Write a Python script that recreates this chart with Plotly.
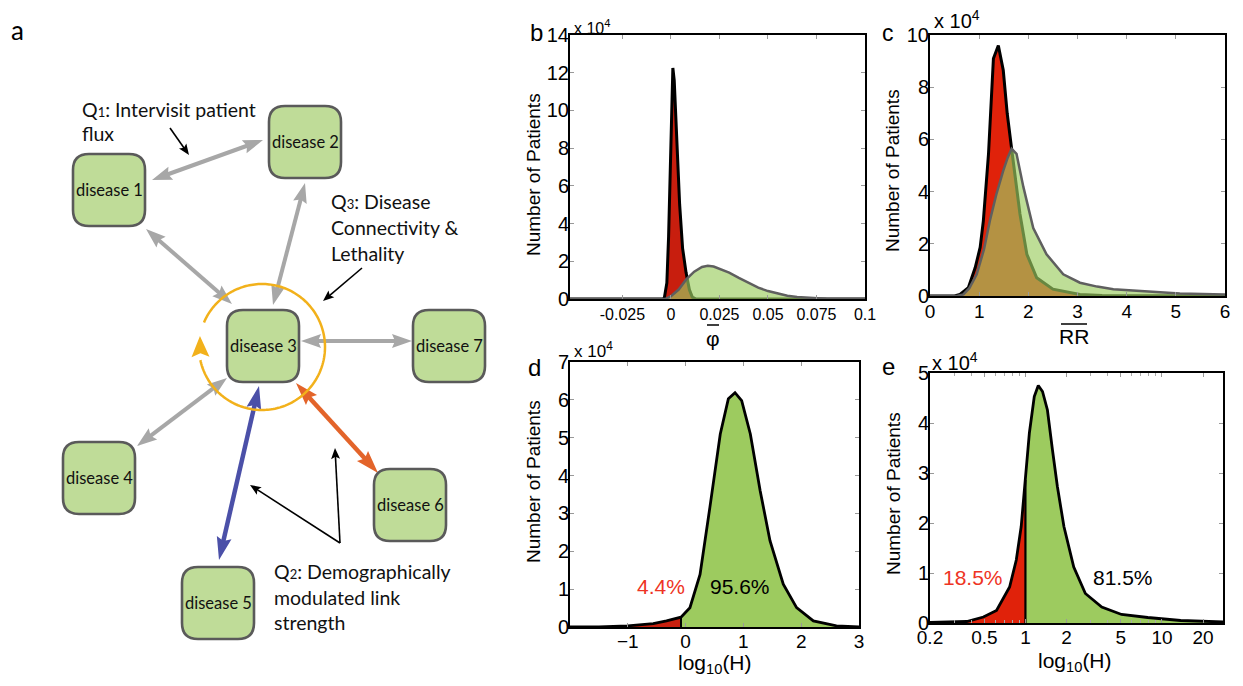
import numpy as np
import plotly.graph_objects as go

W, H = 1243, 686

# ---------------- panel a: network diagram ----------------
node_names = ["disease 1", "disease 2", "disease 3", "disease 4", "disease 5", "disease 6", "disease 7"]
node_cx = [109, 305, 263, 99, 218, 410, 449]
node_cy = [190, 142, 346, 478, 603, 505, 346]

# edges: start point, end point, colour key
edge_start = [(152, 180), (146, 229), (305, 183), (301, 341), (227, 378), (259, 386), (296, 383)]
edge_end = [(263, 140), (232, 304), (273, 305), (412, 341), (137, 446), (219, 560), (378, 473)]
edge_kind = ["gray", "gray", "gray", "gray", "gray", "blue", "orange"]

pointer_start = [(170, 128), (362, 268), (340, 543), (340, 543)]
pointer_end = [(189, 155), (323, 301), (250, 485), (335, 448)]

q_text_lines = [
    ("Q<span style='font-size:13px'>1</span>: Intervisit patient", 80, 109),
    ("flux", 80, 133),
    ("Q<span style='font-size:13px'>3</span>: Disease", 329, 201),
    ("Connectivity &amp;", 329, 227),
    ("Lethality", 329, 253),
    ("Q<span style='font-size:13px'>2</span>: Demographically", 272, 571),
    ("modulated link", 272, 597),
    ("strength", 272, 622),
]

loop_center = (262, 347)
loop_radius = 63

# ---------------- panel b: mean phi ----------------
b_red_x = [-0.052, -0.0045, -0.0034, -0.0021, -0.0012, -0.0003, 0.0005, 0.001, 0.0017, 0.0026,
           0.0034, 0.0045, 0.006, 0.0078, 0.0095, 0.011, 0.013, 0.1]
b_red_y = [0, 0, 0.05, 0.85, 3.3, 6.85, 10.4, 12.25, 11.6, 9.5, 7.2, 5.0, 2.7, 1.4, 0.5, 0.1, 0, 0]
b_green_x = [-0.052, -0.003, 0.0, 0.004, 0.008, 0.012, 0.016, 0.019, 0.022, 0.026, 0.03, 0.035, 0.04,
             0.045, 0.05, 0.055, 0.06, 0.065, 0.07, 0.075, 0.08, 0.09, 0.1]
b_green_y = [0, 0, 0.15, 0.5, 1.05, 1.45, 1.7, 1.76, 1.72, 1.58, 1.4, 1.12, 0.84, 0.6, 0.42, 0.28,
             0.17, 0.1, 0.06, 0.03, 0.015, 0.005, 0]
b_xticks = [-0.025, 0, 0.025, 0.05, 0.075, 0.1]
b_xticktext = ["-0.025", "0", "0.025", "0.05", "0.075", "0.1"]

# ---------------- panel c: mean RR ----------------
c_red_x = [0, 0.5, 0.61, 0.78, 0.92, 1.02, 1.085, 1.19, 1.29, 1.39, 1.49, 1.57, 1.66, 1.75, 1.83,
           1.97, 2.17, 2.5, 3.05, 3.5, 6]
c_red_y = [0, 0, 0.06, 0.32, 1.09, 1.86, 2.88, 5.45, 9.1, 9.6, 8.65, 7.0, 5.64, 4.3, 3.14, 1.6,
           0.7, 0.26, 0.06, 0.02, 0]
c_green_x = [0, 0.55, 0.68, 0.8, 0.95, 1.1, 1.22, 1.35, 1.49, 1.58, 1.66, 1.76, 1.9, 2.1, 2.37,
             2.71, 3.05, 3.4, 3.73, 4.4, 5.08, 6]
c_green_y = [0, 0, 0.06, 0.3, 0.83, 1.8, 2.9, 3.9, 4.8, 5.3, 5.64, 5.45, 4.17, 2.6, 1.6, 0.83,
             0.51, 0.36, 0.26, 0.17, 0.1, 0.06]

# ---------------- panel d: log10(H) for phi ----------------
d_x = [-2, -1.5, -1, -0.75, -0.56, -0.33, -0.08, 0.075, 0.25, 0.42, 0.6, 0.74, 0.855, 0.97, 1.12,
       1.29, 1.46, 1.69, 1.92, 2.21, 2.61, 3]
d_y = [0, 0.005, 0.03, 0.06, 0.09, 0.16, 0.26, 0.51, 1.39, 3.16, 5.1, 6.03, 6.19, 5.98, 5.1, 3.6,
       2.28, 1.13, 0.51, 0.16, 0.03, 0]
d_split = 6  # index of the boundary point
d_labels = ["4.4%", "95.6%"]
d_label_x = [-0.42, 0.94]
d_label_y = [1.08, 1.08]

# ---------------- panel e: H for RR ----------------
e_x = [0.2, 0.372, 0.492, 0.614, 0.766, 0.857, 0.931, 1.0, 1.069, 1.161, 1.242, 1.334, 1.449,
       1.578, 1.714, 1.914, 2.259, 2.748, 3.622, 5.058, 7.87, 13.71, 28.0]
e_y = [0.01, 0.03, 0.12, 0.25, 0.72, 1.26, 1.93, 2.86, 3.8, 4.53, 4.75, 4.63, 4.26, 3.46, 2.73,
       1.93, 1.12, 0.59, 0.32, 0.17, 0.11, 0.05, 0.02]
e_split = 7
e_labels = ["18.5%", "81.5%"]
e_label_x = [0.416, 5.2]
e_label_y = [0.91, 0.91]
e_xticks = [0.2, 0.5, 1, 2, 5, 10, 20]

# ---------------- styling ----------------
ARIAL = "Liberation Sans, Arial, sans-serif"
CAL = "Lato, Carlito, Calibri, sans-serif"
colors = {"gray": "#a7a7a7", "blue": "#4b50a8", "orange": "#e3642a"}
NODE_FILL = "#bfdc98"
NODE_EDGE = "#5a5a5a"
YELLOW = "#f2b11b"
GREEN_T = "rgba(157,205,97,0.66)"
GREEN = "#9dcb5f"


def P(px, py):
    return px / W, 1 - py / H


def dom_x(l, r):
    return [l / W, r / W]


def dom_y(t, b):
    return [1 - b / H, 1 - t / H]


shapes = []
annotations = []


def rrect(cx, cy, h=36, r=16):
    x0, x1, y0, y1 = cx - h, cx + h, cy - h, cy + h
    return (f"M{x0 + r},{y0} L{x1 - r},{y0} Q{x1},{y0} {x1},{y0 + r} L{x1},{y1 - r} "
            f"Q{x1},{y1} {x1 - r},{y1} L{x0 + r},{y1} Q{x0},{y1} {x0},{y1 - r} "
            f"L{x0},{y0 + r} Q{x0},{y0} {x0 + r},{y0} Z")


def head(tip, frm, L, Wd, color, notch=0.15):
    tx, ty = tip
    fx, fy = frm
    dx, dy = tx - fx, ty - fy
    n = np.hypot(dx, dy)
    ux, uy = dx / n, dy / n
    px, py = -uy, ux
    bx, by = tx - ux * L, ty - uy * L
    nx, ny = tx - ux * L * (1 - notch), ty - uy * L * (1 - notch)
    path = (f"M{tx:.2f},{ty:.2f} L{bx + px * Wd:.2f},{by + py * Wd:.2f} L{nx:.2f},{ny:.2f} "
            f"L{bx - px * Wd:.2f},{by - py * Wd:.2f} Z")
    shapes.append(dict(type="path", path=path, xref="x", yref="y", fillcolor=color,
                       line=dict(width=0), layer="above"))


def arrow(s, e, color, width, L, Wd, both=True, notch=0.15):
    sx, sy = s
    ex, ey = e
    n = np.hypot(ex - sx, ey - sy)
    ux, uy = (ex - sx) / n, (ey - sy) / n
    e2 = (ex - ux * L * 0.7, ey - uy * L * 0.7)
    s2 = (sx + ux * L * 0.7, sy + uy * L * 0.7) if both else (sx, sy)
    shapes.append(dict(type="line", x0=s2[0], y0=s2[1], x1=e2[0], y1=e2[1], xref="x", yref="y",
                       line=dict(color=color, width=width), layer="above"))
    head(e, s, L, Wd, color, notch)
    if both:
        head(s, e, L, Wd, color, notch)


# edges
for s, e, k in zip(edge_start, edge_end, edge_kind):
    if k == "gray":
        arrow(s, e, colors[k], 4, 20, 7)
    else:
        arrow(s, e, colors[k], 4.5, 23, 7.5)

# pointer arrows
for s, e in zip(pointer_start, pointer_end):
    arrow(s, e, "black", 1.6, 11, 4.5, both=False, notch=0.2)

# yellow loop
cx, cy = loop_center
ang = np.radians(np.linspace(157, -168, 200))
pts = [(cx + loop_radius * np.cos(a), cy - loop_radius * np.sin(a)) for a in ang]
shapes.append(dict(type="path", xref="x", yref="y", layer="above",
                   path="M" + " L".join(f"{x:.2f},{y:.2f}" for x, y in pts),
                   line=dict(color=YELLOW, width=2.5)))
a_tip = np.radians(170)
a_frm = np.radians(193)
head((cx + loop_radius * np.cos(a_tip), cy - loop_radius * np.sin(a_tip)),
     (cx + loop_radius * np.cos(a_frm), cy - loop_radius * np.sin(a_frm)), 21, 9, YELLOW, 0.18)

# nodes
for name, x, y in zip(node_names, node_cx, node_cy):
    shapes.append(dict(type="path", path=rrect(x, y), xref="x", yref="y", fillcolor=NODE_FILL,
                       line=dict(color=NODE_EDGE, width=2.6), layer="above"))
    annotations.append(dict(text=name, x=x, y=y, xref="x", yref="y", showarrow=False,
                            xanchor="center", yanchor="middle",
                            font=dict(family=CAL, size=16.5, color="#111")))

for t, x, y in q_text_lines:
    annotations.append(dict(text=t, x=x, y=y, xref="x", yref="y", showarrow=False,
                            xanchor="left", yanchor="middle",
                            font=dict(family=CAL, size=19.5, color="#111")))

# ---------------- traces ----------------
traces = [go.Scatter(x=[0], y=[0], xaxis="x", yaxis="y", mode="markers",
                     marker=dict(opacity=0), hoverinfo="skip", showlegend=False)]

# b
traces.append(go.Scatter(x=b_red_x, y=b_red_y, xaxis="x2", yaxis="y2", mode="lines",
                         fill="tozeroy", fillcolor="#c81e0e", line=dict(color="black", width=3),
                         showlegend=False))
traces.append(go.Scatter(x=b_green_x, y=b_green_y, xaxis="x2", yaxis="y2", mode="lines",
                         fill="tozeroy", fillcolor=GREEN_T, line=dict(color="#5f5f5f", width=2.5),
                         showlegend=False))
# c
traces.append(go.Scatter(x=c_red_x, y=c_red_y, xaxis="x3", yaxis="y3", mode="lines",
                         fill="tozeroy", fillcolor="#e0220a", line=dict(color="black", width=3),
                         showlegend=False))
traces.append(go.Scatter(x=c_green_x, y=c_green_y, xaxis="x3", yaxis="y3", mode="lines",
                         fill="tozeroy", fillcolor=GREEN_T, line=dict(color="#5f5f5f", width=2.5),
                         showlegend=False))
# d
traces.append(go.Scatter(x=d_x[:d_split + 1], y=d_y[:d_split + 1], xaxis="x4", yaxis="y4",
                         mode="lines", fill="tozeroy", fillcolor="#c8200e", line=dict(width=0),
                         showlegend=False))
traces.append(go.Scatter(x=d_x[d_split:], y=d_y[d_split:], xaxis="x4", yaxis="y4",
                         mode="lines", fill="tozeroy", fillcolor=GREEN, line=dict(width=0),
                         showlegend=False))
traces.append(go.Scatter(x=[d_x[d_split], d_x[d_split]], y=[0, d_y[d_split]], xaxis="x4", yaxis="y4",
                         mode="lines", line=dict(color="black", width=2), showlegend=False))
traces.append(go.Scatter(x=d_x, y=d_y, xaxis="x4", yaxis="y4", mode="lines",
                         line=dict(color="black", width=2.8), showlegend=False))
# e
traces.append(go.Scatter(x=e_x[:e_split + 1], y=e_y[:e_split + 1], xaxis="x5", yaxis="y5",
                         mode="lines", fill="tozeroy", fillcolor="#e0220a", line=dict(width=0),
                         showlegend=False))
traces.append(go.Scatter(x=e_x[e_split:], y=e_y[e_split:], xaxis="x5", yaxis="y5",
                         mode="lines", fill="tozeroy", fillcolor=GREEN, line=dict(width=0),
                         showlegend=False))
traces.append(go.Scatter(x=[e_x[e_split], e_x[e_split]], y=[0, e_y[e_split]], xaxis="x5", yaxis="y5",
                         mode="lines", line=dict(color="black", width=2.2), showlegend=False))
traces.append(go.Scatter(x=e_x, y=e_y, xaxis="x5", yaxis="y5", mode="lines",
                         line=dict(color="black", width=2.8), showlegend=False))

fig = go.Figure(traces)


def ax(domain, rng, anchor, tickfont, standoff=0, **kw):
    d = dict(domain=domain, range=rng, anchor=anchor, showline=True, linecolor="black",
             linewidth=2, mirror="allticks", ticks="inside", ticklen=4, tickcolor="#999",
             tickwidth=1, showgrid=False, zeroline=False, automargin=False,
             ticklabelstandoff=standoff,
             tickfont=dict(family=ARIAL, size=tickfont, color="black"))
    d.update(kw)
    return d


layout = dict(
    width=W, height=H, margin=dict(l=0, r=0, t=0, b=0), paper_bgcolor="white",
    plot_bgcolor="white", showlegend=False,
    xaxis=dict(domain=[0, 500 / W], range=[0, 500], visible=False, anchor="y"),
    yaxis=dict(domain=[0, 1], range=[686, 0], visible=False, anchor="x"),
    xaxis2=ax(dom_x(570, 865), [-0.052, 0.1], "y2", 16, 0, tickvals=b_xticks, ticktext=b_xticktext),
    yaxis2=ax(dom_y(35, 299), [0, 14], "x2", 20, -5, tickvals=list(range(0, 15, 2))),
    xaxis3=ax(dom_x(930, 1225), [0, 6], "y3", 19, -3, tickvals=list(range(0, 7))),
    yaxis3=ax(dom_y(35, 296), [0, 10], "x3", 20, -5, tickvals=list(range(0, 11, 2))),
    xaxis4=ax(dom_x(570, 859), [-2, 3], "y4", 19, -4, tickvals=[-1, 0, 1, 2, 3]),
    yaxis4=ax(dom_y(362, 627), [0, 7], "x4", 20, -5, tickvals=list(range(0, 8))),
    xaxis5=ax(dom_x(930, 1223), [np.log10(0.2), np.log10(28.0)], "y5", 19, -4, type="log",
              tickvals=e_xticks, ticktext=[str(v) for v in e_xticks],
              minor=dict(tickvals=[0.3, 0.4, 0.6, 0.7, 0.8, 0.9, 3, 4, 6, 7, 8, 9],
                         ticks="inside", ticklen=3, tickcolor="#aaa")),
    yaxis5=ax(dom_y(373, 623), [0, 5], "x5", 20, -5, tickvals=list(range(0, 6))),
)

# panel letters
for t, px, py, fam, sz in [("a", 17, 30, CAL, 26), ("b", 536, 32, ARIAL, 24), ("c", 888, 33, ARIAL, 23),
                           ("d", 534, 367, ARIAL, 24), ("e", 888, 366, ARIAL, 24)]:
    x, y = P(px, py)
    annotations.append(dict(text=t, x=x, y=y, xref="paper", yref="paper", showarrow=False,
                            xanchor="center", yanchor="middle",
                            font=dict(family=fam, size=sz, color="black")))

# x 10^4 multipliers
for px, py, sz in [(572, 27, 16), (932, 20, 20), (572, 350, 17), (930, 361, 20)]:
    x, y = P(px, py)
    annotations.append(dict(text="x 10<sup>4</sup>", x=x, y=y, xref="paper", yref="paper",
                            xanchor="left", yanchor="middle", showarrow=False,
                            font=dict(family=ARIAL, size=sz, color="black")))

# y titles
for px, py in [(534, 175), (893, 171), (534, 482), (893, 494)]:
    x, y = P(px, py)
    annotations.append(dict(text="Number of Patients", x=x, y=y, xref="paper", yref="paper",
                            textangle=-90, showarrow=False, xanchor="center", yanchor="middle",
                            font=dict(family=ARIAL, size=19, color="black")))

# x titles
for t, px, py in [("φ", 713, 338), ("RR", 1074, 336),
                  ("log<sub>10</sub>(H)", 715, 664), ("log<sub>10</sub>(H)", 1075, 662)]:
    x, y = P(px, py)
    annotations.append(dict(text=t, x=x, y=y, xref="paper", yref="paper", showarrow=False,
                            xanchor="center", yanchor="middle",
                            font=dict(family=ARIAL, size=21, color="black")))
for x0, x1, py in [(707, 719, 325), (1061, 1087, 324)]:
    a0, b0 = P(x0, py)
    a1, _ = P(x1, py)
    shapes.append(dict(type="line", xref="paper", yref="paper", x0=a0, x1=a1, y0=b0, y1=b0,
                       line=dict(color="black", width=1.5)))

# percentage labels
for t, x, y, c in zip(d_labels, d_label_x, d_label_y, ["#ee3424", "black"]):
    annotations.append(dict(text=t, x=x, y=y, xref="x4", yref="y4", showarrow=False,
                            xanchor="center", yanchor="middle",
                            font=dict(family=ARIAL, size=21, color=c)))
for t, x, y, c in zip(e_labels, e_label_x, e_label_y, ["#ee3424", "black"]):
    annotations.append(dict(text=t, x=np.log10(x), y=y, xref="x5", yref="y5", showarrow=False,
                            xanchor="center", yanchor="middle",
                            font=dict(family=ARIAL, size=21, color=c)))

layout["shapes"] = shapes
layout["annotations"] = annotations
fig.update_layout(**layout)
fig.write_html("out.html", config={"displayModeBar": False})
